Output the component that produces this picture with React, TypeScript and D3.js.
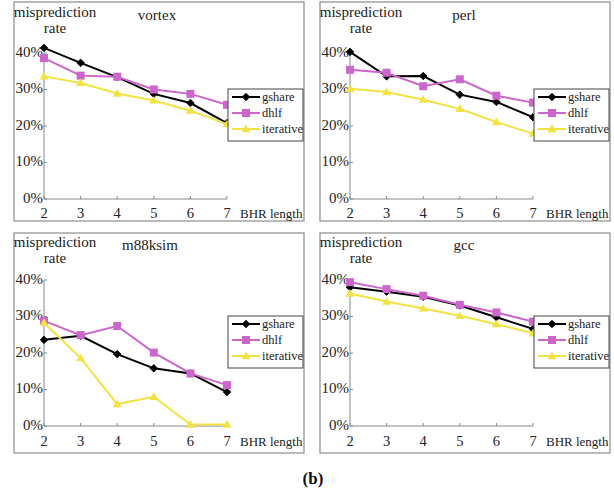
import React from "react";
import * as d3 from "d3";

const bhr = [2, 3, 4, 5, 6, 7];
const yTicks = [0, 10, 20, 30, 40];
const seriesNames = ["gshare", "dhlf", "iterative"];
const benchmarks = ["vortex", "perl", "m88ksim", "gcc"];

const vortexGshare = [41.4, 37.3, 33.4, 28.8, 26.3, 20.8];
const vortexDhlf = [38.6, 33.8, 33.5, 30.0, 28.8, 25.8];
const vortexIter = [33.6, 31.8, 28.9, 27.0, 24.2, 20.5];

const perlGshare = [40.3, 33.6, 33.7, 28.6, 26.6, 22.4];
const perlDhlf = [35.4, 34.6, 30.9, 32.8, 28.3, 26.4];
const perlIter = [30.2, 29.3, 27.2, 24.7, 21.1, 17.9];

const m88Gshare = [23.6, 24.7, 19.7, 15.8, 14.4, 9.3];
const m88Dhlf = [28.8, 24.9, 27.4, 20.1, 14.4, 11.2];
const m88Iter = [28.3, 18.6, 6.0, 8.0, 0.4, 0.4];

const gccGshare = [38.0, 36.8, 35.4, 33.0, 29.8, 26.6];
const gccDhlf = [39.4, 37.5, 35.7, 33.2, 31.1, 28.6];
const gccIter = [36.3, 34.1, 32.2, 30.2, 27.9, 25.4];

const panelData = [
  [vortexGshare, vortexDhlf, vortexIter],
  [perlGshare, perlDhlf, perlIter],
  [m88Gshare, m88Dhlf, m88Iter],
  [gccGshare, gccDhlf, gccIter],
];

const colors = ["#000000", "#cc66cc", "#f2e244"];
const txt = { fontFamily: '"Liberation Serif"' };

const cols = [14, 320];
const rows = [
  { top: 2, bottom: 221, y0: 199, y40: 53, xLab: 218, lab1: 17, lab2: 33 },
  { top: 233, bottom: 453, y0: 426, y40: 280, xLab: 446, lab1: 247, lab2: 263 },
];
const titleOffsets = [143, 144, 136, 144];

function Marker({ kind, x, y, color }: { kind: number; x: number; y: number; color: string }) {
  if (kind === 0) {
    const s = 3.8;
    return (
      <path
        d={`M${x},${y - s}L${x + s},${y}L${x},${y + s}L${x - s},${y}Z`}
        fill={color}
        stroke={color}
        strokeWidth={0.8}
      />
    );
  }
  if (kind === 1) {
    const s = 4;
    return <rect x={x - s} y={y - s} width={2 * s} height={2 * s} fill={color} />;
  }
  const s = 4.5;
  return (
    <path
      d={`M${x},${y - s}L${x + s},${y + s * 0.7}L${x - s},${y + s * 0.7}Z`}
      fill={color}
    />
  );
}

function Panel({ idx }: { idx: number }) {
  const left = cols[idx % 2];
  const row = rows[Math.floor(idx / 2)];
  const right = left + 290;
  const x = d3.scaleLinear().domain([2, 7]).range([left + 30, left + 213]);
  const y = d3.scaleLinear().domain([0, 40]).range([row.y0, row.y40]);
  const line = d3
    .line<number>()
    .x((_, i) => x(bhr[i]))
    .y((v) => y(v));
  const data = panelData[idx];
  const lg = { x0: left + 214, x1: left + 289, y0: row.y0 - 110, y1: row.y0 - 58 };
  const rowsY = [row.y0 - 102, row.y0 - 86, row.y0 - 70];
  return (
    <g>
      <rect
        x={left}
        y={row.top}
        width={right - left}
        height={row.bottom - row.top}
        fill="white"
        stroke="#8c8c8c"
        strokeWidth={1.2}
      />
      <text x={left + 41} y={row.lab1} textAnchor="middle" fontSize={15} fill="#222" style={txt}>
        misprediction
      </text>
      <text x={left + 41} y={row.lab2} textAnchor="middle" fontSize={15} fill="#222" style={txt}>
        rate
      </text>
      <text x={left + titleOffsets[idx]} y={row.lab1 + 3} textAnchor="middle" fontSize={15} fill="#222" style={txt}>
        {benchmarks[idx]}
      </text>
      {/* axes */}
      <line x1={x(2)} x2={x(7)} y1={row.y0} y2={row.y0} stroke="#888" strokeWidth={1} />
      <line x1={x(2)} x2={x(2)} y1={row.y0} y2={y(40)} stroke="#888" strokeWidth={1} />
      {bhr.map((b) => (
        <g key={b}>
          <line x1={x(b)} x2={x(b)} y1={row.y0} y2={row.y0 - 3} stroke="#888" />
          <text x={x(b)} y={row.xLab} textAnchor="middle" fontSize={14.5} fill="#222" style={txt}>
            {b}
          </text>
        </g>
      ))}
      {yTicks.map((t) => (
        <g key={t}>
          <line x1={x(2)} x2={x(2) + 3} y1={y(t)} y2={y(t)} stroke="#888" />
          <text x={x(2) - 1} y={y(t)} dy="0.25em" textAnchor="end" fontSize={15} fill="#222" style={txt}>
            {t}%
          </text>
        </g>
      ))}
      <text x={left + 226} y={row.xLab} fontSize={13} fill="#222" style={txt}>
        BHR length
      </text>
      {/* series */}
      {data.map((vals, si) => (
        <g key={si}>
          <path d={line(vals) || ""} fill="none" stroke={colors[si]} strokeWidth={2} />
          {vals.map((v, i) => (
            <Marker key={i} kind={si} x={x(bhr[i])} y={y(v)} color={colors[si]} />
          ))}
        </g>
      ))}
      {/* legend */}
      <rect
        x={lg.x0}
        y={lg.y0}
        width={lg.x1 - lg.x0}
        height={lg.y1 - lg.y0}
        fill="white"
        stroke="#444"
        strokeWidth={1}
      />
      {seriesNames.map((n, si) => (
        <g key={n}>
          <line
            x1={lg.x0 + 4}
            x2={lg.x0 + 32}
            y1={rowsY[si]}
            y2={rowsY[si]}
            stroke={colors[si]}
            strokeWidth={2}
          />
          <Marker kind={si} x={lg.x0 + 18} y={rowsY[si]} color={colors[si]} />
          <text x={lg.x0 + 34} y={rowsY[si]} dy="0.33em" fontSize={12.5} fill="#222" style={txt}>
            {n}
          </text>
        </g>
      ))}
    </g>
  );
}

export default function App() {
  return (
    <svg
      width={614}
      height={491}
      style={{ position: "absolute", left: 0, top: 0, background: "white" }}
    >
      <rect x={0} y={0} width={614} height={491} fill="white" />
      {[0, 1, 2, 3].map((i) => (
        <Panel key={i} idx={i} />
      ))}
      <text x={313} y={484} textAnchor="middle" fontSize={17} fontWeight="bold" fill="#111" style={txt}>
        (b)
      </text>
    </svg>
  );
}
